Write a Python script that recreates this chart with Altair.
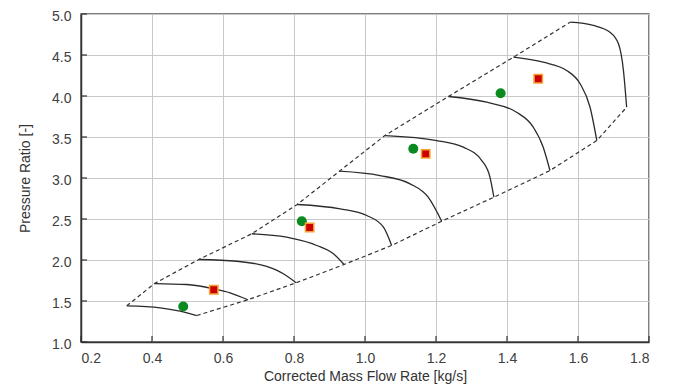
import altair as alt
import pandas as pd

# Speed lines (corrected mass flow [kg/s], pressure ratio [-])
line_x = [
    [0.329, 0.423, 0.479, 0.526],
    [0.407, 0.498, 0.573, 0.620, 0.670],
    [0.532, 0.639, 0.723, 0.770, 0.806],
    [0.681, 0.779, 0.864, 0.911, 0.941],
    [0.809, 0.930, 1.005, 1.052, 1.075],
    [0.928, 1.042, 1.127, 1.178, 1.216],
    [1.056, 1.202, 1.277, 1.329, 1.352, 1.363],
    [1.235, 1.343, 1.427, 1.474, 1.502, 1.521],
    [1.418, 1.502, 1.568, 1.606, 1.634, 1.653],
    [1.578, 1.643, 1.690, 1.714, 1.728, 1.737],
]
line_y = [
    [1.441, 1.417, 1.376, 1.323],
    [1.713, 1.701, 1.649, 1.600, 1.515],
    [2.006, 1.985, 1.921, 1.832, 1.722],
    [2.320, 2.278, 2.177, 2.076, 1.945],
    [2.677, 2.624, 2.543, 2.400, 2.177],
    [3.083, 3.030, 2.929, 2.766, 2.473],
    [3.518, 3.457, 3.376, 3.213, 3.010, 2.766],
    [3.994, 3.924, 3.802, 3.620, 3.376, 3.091],
    [4.473, 4.412, 4.311, 4.149, 3.863, 3.457],
    [4.900, 4.860, 4.778, 4.637, 4.311, 3.863],
]

green_x = [0.488, 0.822, 1.136, 1.382]
green_y = [1.433, 2.473, 3.356, 4.034]
red_x = [0.574, 0.844, 1.171, 1.488]
red_y = [1.637, 2.396, 3.295, 4.210]

x_ticks = [0.2, 0.4, 0.6, 0.8, 1.0, 1.2, 1.4, 1.6, 1.8]
y_ticks = [1.0, 1.5, 2.0, 2.5, 3.0, 3.5, 4.0, 4.5, 5.0]

rows = []
for i, (xs, ys) in enumerate(zip(line_x, line_y)):
    for j, (a, b) in enumerate(zip(xs, ys)):
        rows.append({"line": i, "order": j, "x": a, "y": b})
speed_df = pd.DataFrame(rows)

surge_df = pd.DataFrame({"x": [l[0] for l in line_x], "y": [l[0] for l in line_y],
                         "order": list(range(len(line_x)))})
choke_df = pd.DataFrame({"x": [l[-1] for l in line_x], "y": [l[-1] for l in line_y],
                         "order": list(range(len(line_x)))})
green_df = pd.DataFrame({"x": green_x, "y": green_y})
red_df = pd.DataFrame({"x": red_x, "y": red_y})

xscale = alt.Scale(domain=[0.2, 1.8], nice=False, zero=False)
yscale = alt.Scale(domain=[1.0, 5.0], nice=False, zero=False)

FONT = "Liberation Sans"

xenc = alt.X("x:Q", scale=xscale,
             axis=alt.Axis(values=x_ticks, format=".1f", title="Corrected Mass Flow Rate [kg/s]",
                           ticks=False, labelPadding=9, titlePadding=4,
                           grid=True, gridColor="#c8c8c8", gridWidth=1,
                           domainColor="#333333", domainWidth=1.5,
                           labelFont=FONT, labelFontSize=14, labelColor="#404040",
                           titleFont=FONT, titleFontSize=14, titleFontWeight="normal",
                           titleColor="#333333"))
yenc = alt.Y("y:Q", scale=yscale,
             axis=alt.Axis(values=y_ticks, format=".1f", title="Pressure Ratio [-]",
                           ticks=False, labelPadding=10, titlePadding=19, labelOffset=2,
                           grid=True, gridColor="#c8c8c8", gridWidth=1,
                           domainColor="#333333", domainWidth=1.5,
                           labelFont=FONT, labelFontSize=14, labelColor="#404040",
                           titleFont=FONT, titleFontSize=14, titleFontWeight="normal",
                           titleColor="#333333"))

speed = alt.Chart(speed_df).mark_line(color="#2b2b2b", strokeWidth=1.3, interpolate="monotone").encode(
    x=xenc, y=yenc, detail="line:N", order="order:Q")

surge = alt.Chart(surge_df).mark_line(color="#333333", strokeWidth=1.2, strokeDash=[4, 3]).encode(
    x="x:Q", y="y:Q", order="order:Q")
choke = alt.Chart(choke_df).mark_line(color="#333333", strokeWidth=1.2, strokeDash=[4, 3]).encode(
    x="x:Q", y="y:Q", order="order:Q")

xt_df = pd.DataFrame({"x": x_ticks, "y": [1.0] * len(x_ticks), "y2": [1.0 + 6 / 82] * len(x_ticks)})
yt_df = pd.DataFrame({"y": y_ticks, "x": [0.2] * len(y_ticks), "x2": [0.2 + 6 / 355] * len(y_ticks)})
xticks = alt.Chart(xt_df).mark_rule(color="#333333", strokeWidth=1.2).encode(x="x:Q", y="y:Q", y2="y2:Q")
yticks = alt.Chart(yt_df).mark_rule(color="#333333", strokeWidth=1.2).encode(y="y:Q", x="x:Q", x2="x2:Q")

green = alt.Chart(green_df).mark_circle(color="#0a8a1f", opacity=1, size=100).encode(x="x:Q", y="y:Q")
red = alt.Chart(red_df).mark_square(color="#cc0000", opacity=1, size=70, stroke="#f5a030",
                                    strokeWidth=1.5).encode(x="x:Q", y="y:Q")

chart = alt.layer(speed, surge, choke, xticks, yticks, green, red).properties(
    width=568, height=328,
    autosize=alt.AutoSizeParams(type="none"),
    padding={"left": 73, "top": 6, "right": 17, "bottom": 45},
    background="white",
).configure_view(stroke="#555555", strokeWidth=1.5)

chart.save("out.html", embed_options={"renderer": "svg", "actions": False})
